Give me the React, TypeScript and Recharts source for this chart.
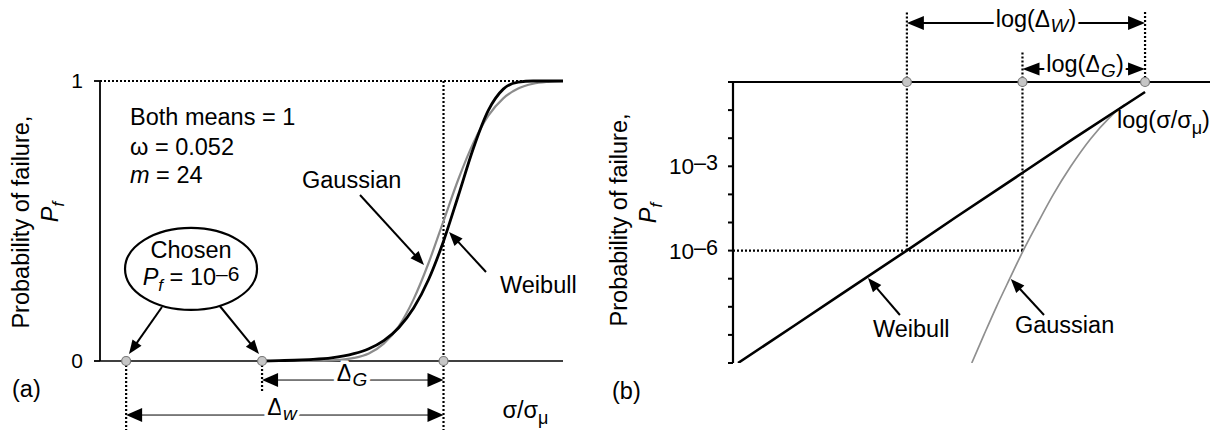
import React from 'react';
import { LineChart, Line, XAxis, YAxis, ReferenceLine, ReferenceDot } from 'recharts';

const FONT = '"Liberation Sans", Arial, Helvetica, sans-serif';

// (a) linear Pf against sigma/sigma_mu
const linSigmaG = [0.757, 0.8, 0.84, 0.86, 0.88, 0.9, 0.92, 0.94, 0.96, 0.98, 1.0, 1.02, 1.04, 1.06, 1.08, 1.1, 1.12, 1.14, 1.16];
const linPfG = [0, 0.0001, 0.001, 0.004, 0.011, 0.027, 0.062, 0.124, 0.221, 0.35, 0.5, 0.65, 0.779, 0.876, 0.938, 0.973, 0.99, 0.997, 1];
const linSigmaW = [0.757, 0.78, 0.8, 0.82, 0.85, 0.88, 0.9, 0.92, 0.94, 0.96, 0.98, 1.0, 1.02, 1.04, 1.06, 1.08, 1.1, 1.12, 1.16];
const linPfW = [0, 0.0014, 0.0026, 0.005, 0.011, 0.026, 0.044, 0.073, 0.119, 0.189, 0.291, 0.428, 0.592, 0.76, 0.895, 0.971, 0.996, 1, 1];
const linMarks = [0.575, 0.757, 1.0];

// (b) log Pf against log(sigma/sigma_mu)
const logSigmaW = [0.3945, 0.45, 0.5, 0.58, 0.65, 0.7565, 0.85, 1.0];
const logPfW = [1e-10, 2.3e-9, 2.9e-8, 1.0e-6, 1.6e-5, 6.0e-4, 9.8e-3, 0.44];
const logSigmaG = [0.673, 0.692, 0.712, 0.734, 0.757, 0.783, 0.811, 0.844, 0.884, 0.92, 0.939, 0.955];
const logPfG = [1e-10, 1e-9, 1e-8, 1e-7, 1e-6, 1e-5, 1e-4, 1e-3, 1e-2, 0.05, 0.1, 0.16];
const logMarks = [0.5803, 0.7557, 1.0];
const decades = [1e-10, 1e-9, 1e-8, 1e-7, 1e-6, 1e-5, 1e-4, 1e-3, 1e-2, 1e-1, 1];

const zip = (s: number[], p: number[]) => s.map((v, i) => ({ s: v, p: p[i] }));

type Heads = 'start' | 'end' | 'both';

function ArrowShape(props: any) {
  const { x1 = 0, y1 = 0, x2 = 0, y2 = 0, heads = 'end', w = 1.5, len = 13, half = 5 } = props;
  const dx = x2 - x1;
  const dy = y2 - y1;
  const d = Math.hypot(dx, dy) || 1;
  const ux = dx / d;
  const uy = dy / d;
  const head = (tx: number, ty: number, sx: number, sy: number) => {
    const bx = tx - sx * len;
    const by = ty - sy * len;
    return `${tx},${ty} ${bx - sy * half},${by + sx * half} ${bx + sy * half},${by - sx * half}`;
  };
  const a = heads !== 'end' ? len * 0.8 : 0;
  const b = heads !== 'start' ? len * 0.8 : 0;
  return (
    <g>
      <line x1={x1 + ux * a} y1={y1 + uy * a} x2={x2 - ux * b} y2={y2 - uy * b} stroke="#000" strokeWidth={w} />
      {heads !== 'start' && <polygon points={head(x2, y2, ux, uy)} fill="#000" />}
      {heads !== 'end' && <polygon points={head(x1, y1, -ux, -uy)} fill="#000" />}
    </g>
  );
}

const arrow = (p1: [number, number], p2: [number, number], heads: Heads, w: number, len = 14, half = 5.5) => (
  <ReferenceLine
    segment={[{ x: p1[0], y: p1[1] }, { x: p2[0], y: p2[1] }]}
    ifOverflow="visible"
    shape={(p: any) => <ArrowShape {...p} heads={heads} w={w} len={len} half={half} />}
  />
);

const dotted = (p1: [number, number], p2: [number, number]) => (
  <ReferenceLine
    segment={[{ x: p1[0], y: p1[1] }, { x: p2[0], y: p2[1] }]}
    ifOverflow="visible"
    stroke="#000"
    strokeWidth={2.2}
    strokeDasharray="2 2"
  />
);

const note = (
  x: number,
  y: number,
  content: React.ReactNode,
  opts: { anchor?: string; size?: number; rotate?: boolean; halo?: boolean } = {},
) => (
  <ReferenceDot
    x={x}
    y={y}
    r={0}
    ifOverflow="visible"
    shape={(p: any) => (
      <text
        x={p.cx}
        y={p.cy}
        textAnchor={opts.anchor || 'start'}
        fontFamily={FONT}
        fontSize={opts.size || 23.5}
        fill="#000"
        stroke={opts.halo ? '#fff' : 'none'}
        strokeWidth={opts.halo ? 7 : 0}
        paintOrder="stroke"
        transform={opts.rotate ? `rotate(-90 ${p.cx} ${p.cy})` : undefined}
      >
        {content}
      </text>
    )}
  />
);

const marker = (x: number, y: number) => (
  <ReferenceDot x={x} y={y} r={4.5} fill="#c6c6c6" stroke="#777" strokeWidth={1.2} ifOverflow="visible" />
);

const Pf = () => (
  <>
    <tspan fontStyle="italic">P</tspan>
    <tspan fontStyle="italic" fontSize={17} dy={6}>f</tspan>
  </>
);

const LogTick = (props: any) => {
  const { x, y, payload } = props;
  const e = Math.round(Math.log10(payload.value));
  if (e !== -3 && e !== -6) return null;
  return (
    <text x={x} y={y + 8} textAnchor="end" fontFamily={FONT} fontSize={22.5} fill="#000">
      10<tspan dy={-4} fontSize={21.5}>{'\u2013' + -e}</tspan>
    </text>
  );
};

function PanelA() {
  return (
    <LineChart width={600} height={431} margin={{ top: 81, right: 37, bottom: 70, left: 40 }}>
      <XAxis type="number" dataKey="s" domain={[0.54, 1.16]} allowDataOverflow hide />
      <YAxis
        type="number"
        domain={[0, 1]}
        ticks={[0, 1]}
        width={60}
        tickSize={6}
        tickMargin={11}
        axisLine={{ stroke: '#000', strokeWidth: 1.8 }}
        tickLine={{ stroke: '#000', strokeWidth: 1.8 }}
        tick={{ fill: '#000', fontSize: 21, fontFamily: FONT }}
      />
      <ReferenceLine y={1} stroke="#000" strokeWidth={2.2} strokeDasharray="2 2" />
      <ReferenceLine y={0} stroke="#000" strokeWidth={1.6} />
      {dotted([1.0, 1], [1.0, -0.246])}
      {dotted([linMarks[0], 0], [linMarks[0], -0.246])}
      {dotted([linMarks[1], 0], [linMarks[1], -0.111])}
      {arrow([linMarks[1], -0.068], [linMarks[2], -0.068], 'both', 1, 16, 7)}
      {arrow([linMarks[0], -0.193], [linMarks[2], -0.193], 'both', 1, 16, 7)}
      {note(0.8774, -0.072, <><tspan>Δ</tspan><tspan fontStyle="italic" fontSize={19} dy={5}>G</tspan></>, { anchor: 'middle', halo: true })}
      {note(0.7837, -0.193, <><tspan>Δ</tspan><tspan fontStyle="italic" fontSize={19} dy={5}>w</tspan></>, { anchor: 'middle', halo: true })}
      <Line
        data={zip(linSigmaG, linPfG)}
        dataKey="p"
        type="monotone"
        stroke="#8c8c8c"
        strokeWidth={2.2}
        dot={false}
        activeDot={false}
        isAnimationActive={false}
      />
      <Line
        data={zip(linSigmaW, linPfW)}
        dataKey="p"
        type="monotone"
        stroke="#000"
        strokeWidth={2.8}
        dot={false}
        activeDot={false}
        isAnimationActive={false}
      />
      {marker(linMarks[0], 0)}
      {marker(linMarks[1], 0)}
      {marker(linMarks[2], 0)}
      {note(0.5802, 0.843, 'Both means = 1')}
      {note(0.5802, 0.736, 'ω = 0.052')}
      {note(0.5802, 0.636, <><tspan fontStyle="italic">m</tspan> = 24</>)}
      {note(0.8105, 0.618, 'Gaussian')}
      {arrow([0.8882, 0.593], [0.9739, 0.343], 'end', 2)}
      {note(1.0757, 0.243, 'Weibull')}
      {arrow([1.0569, 0.318], [1.0074, 0.461], 'end', 2)}
      <ReferenceDot
        x={0.6619}
        y={0.329}
        r={0}
        ifOverflow="visible"
        shape={(p: any) => <ellipse cx={p.cx} cy={p.cy} rx={66} ry={41} fill="#fff" stroke="#000" strokeWidth={2.2} />}
      />
      {note(0.6619, 0.368, 'Chosen', { anchor: 'middle' })}
      {note(0.6619, 0.271, <><Pf /><tspan dy={-6}> = 10</tspan><tspan dy={-4} fontSize={21}>–6</tspan></>, { anchor: 'middle' })}
      {arrow([0.623, 0.193], [0.5788, 0.025], 'end', 2)}
      {arrow([0.6993, 0.2], [0.7529, 0.025], 'end', 2)}
      {note(1.079, -0.204, <>σ/σ<tspan fontSize={18} dy={6}>μ</tspan></>)}
      {note(0.4222, -0.129, '(a)')}
      {note(0.4449, 0.496, 'Probability of failure,', { anchor: 'middle', rotate: true })}
      {note(0.4839, 0.532, <Pf />, { anchor: 'middle', rotate: true })}
    </LineChart>
  );
}

function PanelB() {
  return (
    <LineChart width={621} height={431} margin={{ top: 82, right: 11, bottom: 68, left: 73 }}>
      <XAxis type="number" dataKey="s" scale="log" domain={[0.39, 1.16]} allowDataOverflow hide />
      <YAxis
        type="number"
        scale="log"
        domain={[1e-10, 1]}
        allowDataOverflow
        ticks={decades}
        interval={0}
        width={60}
        tickSize={5}
        tickMargin={10}
        axisLine={{ stroke: '#000', strokeWidth: 2.2 }}
        tickLine={{ stroke: '#000', strokeWidth: 2 }}
        tick={<LogTick />}
      />
      <ReferenceLine y={1} stroke="#000" strokeWidth={2.2} />
      {dotted([0.39, 1e-6], [logMarks[1], 1e-6])}
      {dotted([logMarks[0], 1e-6], [logMarks[0], 309])}
      {dotted([logMarks[1], 1e-6], [logMarks[1], 11.7])}
      {dotted([logMarks[2], 1], [logMarks[2], 309])}
      {arrow([logMarks[0], 126], [logMarks[2], 126], 'both', 2.2, 17, 7)}
      {arrow([logMarks[1], 2.9], [logMarks[2], 2.9], 'both', 2.2, 17, 6.5)}
      {note(0.7794, 90.6, <>log(Δ<tspan fontStyle="italic" fontSize={19} dy={5}>W</tspan><tspan dy={-5}>)</tspan></>, { anchor: 'middle', halo: true })}
      {note(0.8717, 2.27, <>log(Δ<tspan fontStyle="italic" fontSize={19} dy={5}>G</tspan><tspan dy={-5}>)</tspan></>, { anchor: 'middle', halo: true })}
      <Line
        data={zip(logSigmaG, logPfG)}
        dataKey="p"
        type="monotone"
        stroke="#8f8f8f"
        strokeWidth={1.7}
        dot={false}
        activeDot={false}
        isAnimationActive={false}
      />
      <Line
        data={zip(logSigmaW, logPfW)}
        dataKey="p"
        type="linear"
        stroke="#000"
        strokeWidth={2.6}
        dot={false}
        activeDot={false}
        isAnimationActive={false}
      />
      {marker(logMarks[0], 1)}
      {marker(logMarks[1], 1)}
      {marker(logMarks[2], 1)}
      {note(0.9379, 0.0231, <>log(σ/σ<tspan fontSize={18} dy={6}>μ</tspan><tspan dy={-6}>)</tspan></>)}
      {note(0.537, 8.4e-10, 'Weibull')}
      {arrow([0.5711, 5.1e-9], [0.5309, 1.06e-7], 'end', 2)}
      {note(0.7428, 1.17e-9, 'Gaussian')}
      {arrow([0.7938, 5.1e-9], [0.7358, 9.75e-8], 'end', 2)}
      {note(0.2958, 5.2e-12, '(b)')}
      {note(0.306, 1.23e-5, 'Probability of failure,', { anchor: 'middle', rotate: true })}
      {note(0.327, 2.18e-5, <Pf />, { anchor: 'middle', rotate: true })}
    </LineChart>
  );
}

export default function App() {
  return (
    <div style={{ position: 'absolute', left: 0, top: 0, width: 1221, height: 431, background: '#fff' }}>
      <div style={{ position: 'absolute', left: 0, top: 0 }}>
        <PanelA />
      </div>
      <div style={{ position: 'absolute', left: 600, top: 0 }}>
        <PanelB />
      </div>
    </div>
  );
}
